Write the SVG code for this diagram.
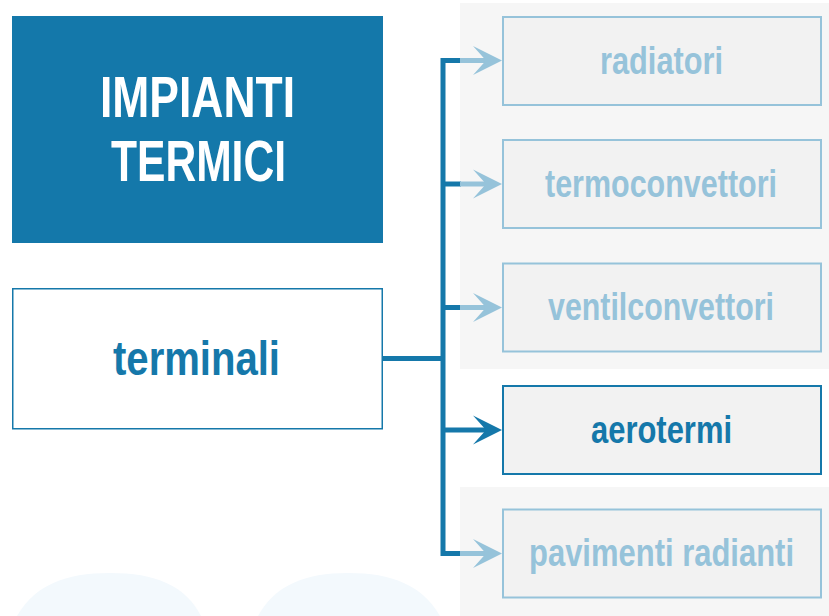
<svg xmlns="http://www.w3.org/2000/svg" width="829" height="616" viewBox="0 0 829 616">
<style>
  .t { font-family: "Liberation Sans", Arial, sans-serif; font-weight: bold; text-anchor: middle; }
  .title { fill: #ffffff; font-size: 57px; }
  .main { fill: #1578AA; font-size: 48px; }
  .lbl { font-size: 38px; }
  .dim { fill: #96C3DA; }
  .act { fill: #1578AA; }
  .box { fill: #F2F2F2; stroke-width: 2; }
  .boxdim { stroke: #96C3DA; }
  .boxact { stroke: #1578AA; }
  .trunk { fill: none; stroke: #1578AA; stroke-width: 5; stroke-linejoin: miter; stroke-linecap: butt; }
  .tail { fill: none; stroke: #96C3DA; stroke-width: 5; }
  .head-dim { fill: #96C3DA; }
  .head-act { fill: #1578AA; }
</style>
<rect x="0" y="0" width="829" height="616" fill="#ffffff"/>
<g id="background">
  <rect x="460" y="3" width="369" height="366" fill="#F6F6F6"/>
  <rect x="460" y="487" width="369" height="129" fill="#F6F6F6"/>
  <path d="M17,616 C35,585 65,573 110,573 C155,573 185,585 201,616 Z" fill="#F3F9FD"/>
  <path d="M258,616 C275,585 305,573 348,573 C392,573 422,585 440,616 Z" fill="#F3F9FD"/>
</g>
<g id="node-impianti">
  <rect x="12" y="16" width="371" height="227" fill="#1478AA"/>
  <text class="t title" x="197.5" y="117" textLength="195" lengthAdjust="spacingAndGlyphs">IMPIANTI</text>
  <text class="t title" x="198.5" y="181" textLength="175" lengthAdjust="spacingAndGlyphs">TERMICI</text>
</g>
<g id="node-terminali">
  <rect x="12.75" y="288.75" width="369.5" height="140" fill="#ffffff" stroke="#1578AA" stroke-width="1.5"/>
  <text class="t main" x="196.5" y="375" textLength="167" lengthAdjust="spacingAndGlyphs">terminali</text>
</g>
<g id="connectors">
  <path class="trunk" d="M383,358.5 H443"/>
  <path class="trunk" d="M461,60.5 H443 V553.5 H461"/>
  <path class="trunk" d="M443,184 H461"/>
  <path class="trunk" d="M443,307.5 H461"/>
  <path class="trunk" d="M443,430 H488"/>
  <path class="tail" d="M460,60.5 H488"/>
  <path class="tail" d="M460,184 H488"/>
  <path class="tail" d="M460,307.5 H488"/>
  <path class="tail" d="M460,553.5 H488"/>
  <polygon class="head-dim" points="502,60.5 473,46 486,60.5 473,75"/>
  <polygon class="head-dim" points="502,184 473,169.5 486,184 473,198.5"/>
  <polygon class="head-dim" points="502,307.5 473,293 486,307.5 473,322"/>
  <polygon class="head-act" points="502,430 473,415.5 486,430 473,444.5"/>
  <polygon class="head-dim" points="502,553.5 473,539 486,553.5 473,568"/>
</g>
<g id="node-radiatori">
  <rect class="box boxdim" x="503" y="17" width="318" height="88"/>
  <text class="t lbl dim" x="661.5" y="73.5" textLength="123" lengthAdjust="spacingAndGlyphs">radiatori</text>
</g>
<g id="node-termoconvettori">
  <rect class="box boxdim" x="503" y="140" width="318" height="88"/>
  <text class="t lbl dim" x="661" y="196.5" textLength="232" lengthAdjust="spacingAndGlyphs">termoconvettori</text>
</g>
<g id="node-ventilconvettori">
  <rect class="box boxdim" x="503" y="263.5" width="318" height="88"/>
  <text class="t lbl dim" x="661" y="320" textLength="226" lengthAdjust="spacingAndGlyphs">ventilconvettori</text>
</g>
<g id="node-aerotermi">
  <rect class="box boxact" x="503" y="386" width="318" height="88"/>
  <text class="t lbl act" x="661.5" y="443" textLength="141" lengthAdjust="spacingAndGlyphs">aerotermi</text>
</g>
<g id="node-pavimenti">
  <rect class="box boxdim" x="503" y="509.5" width="318" height="88"/>
  <text class="t lbl dim" x="661.5" y="566" textLength="265" lengthAdjust="spacingAndGlyphs">pavimenti radianti</text>
</g>
</svg>
